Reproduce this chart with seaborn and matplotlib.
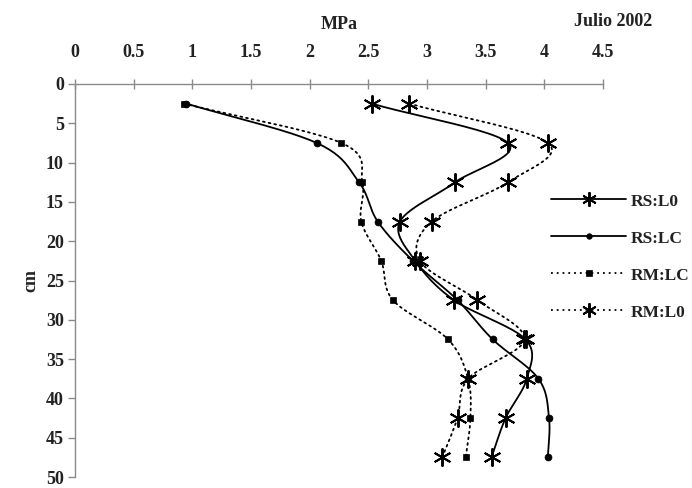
import numpy as np
import pandas as pd
import matplotlib
matplotlib.use("Agg")
import matplotlib.pyplot as plt
from matplotlib.lines import Line2D
import seaborn as sns

# Soil penetration resistance profiles (July 2002)
depth_cm = [2.5, 7.5, 12.5, 17.5, 22.5, 27.5, 32.5, 37.5, 42.5, 47.5]
rs_l0 = [2.53, 3.69, 3.24, 2.77, 2.90, 3.23, 3.84, 3.85, 3.67, 3.55]
rs_lc = [0.95, 2.06, 2.42, 2.58, 2.88, 3.26, 3.56, 3.95, 4.04, 4.03]
rm_lc = [0.93, 2.27, 2.45, 2.44, 2.61, 2.71, 3.18, 3.35, 3.37, 3.33]
rm_l0 = [2.85, 4.03, 3.69, 3.04, 2.94, 3.43, 3.83, 3.35, 3.26, 3.13]

series_names = ["RS:L0", "RS:LC", "RM:LC", "RM:L0"]
x_ticks = [0, 0.5, 1, 1.5, 2, 2.5, 3, 3.5, 4, 4.5]
y_ticks = [0, 5, 10, 15, 20, 25, 30, 35, 40, 45, 50]

sns.set_theme(style="white")
plt.rcParams["font.family"] = ["Liberation Serif", "DejaVu Serif"]

STAR = (6, 2, 0)
DOTTED = (0, (1, 2.2))
styles = {
    "RS:L0": dict(ls="-", marker=STAR, ms=13, mew=1.4),
    "RS:LC": dict(ls="-", marker="o", ms=5, mew=0.5),
    "RM:LC": dict(ls=DOTTED, marker="s", ms=5, mew=0.5),
    "RM:L0": dict(ls=DOTTED, marker=STAR, ms=13, mew=1.4),
}


def smooth(xs, ys, n=24):
    """Catmull-Rom curve through the points, like a smoothed line chart."""
    p = np.column_stack([xs, ys]).astype(float)
    p = np.vstack([2 * p[0] - p[1], p, 2 * p[-1] - p[-2]])
    out = []
    t = np.linspace(0, 1, n, endpoint=False)[:, None]
    for i in range(1, len(p) - 2):
        p0, p1, p2, p3 = p[i - 1], p[i], p[i + 1], p[i + 2]
        seg = 0.5 * ((2 * p1) + (-p0 + p2) * t
                     + (2 * p0 - 5 * p1 + 4 * p2 - p3) * t ** 2
                     + (-p0 + 3 * p1 - 3 * p2 + p3) * t ** 3)
        out.append(seg)
    out.append(p[-2][None, :])
    out = np.vstack(out)
    return out[:, 0], out[:, 1]


fig = plt.figure(figsize=(6.92, 4.88), dpi=100)
ax = fig.add_axes([75 / 692, 1 - 477 / 488, (603 - 75) / 692, (477 - 84) / 488])

data = {"RS:L0": rs_l0, "RS:LC": rs_lc, "RM:LC": rm_lc, "RM:L0": rm_l0}
handles = []
for name in series_names:
    vals = data[name]
    st = styles[name]
    sx, sy = smooth(vals, depth_cm)
    curve = pd.DataFrame({"mpa": sx, "cm": sy})
    sns.lineplot(data=curve, x="mpa", y="cm", sort=False, estimator=None,
                 ax=ax, color="black", lw=1.3, linestyle=st["ls"],
                 dash_capstyle="round")
    pts = pd.DataFrame({"mpa": vals, "cm": depth_cm})
    ax.plot(pts["mpa"], pts["cm"], ls="none", marker=st["marker"],
            ms=st["ms"], mew=st["mew"], color="black", mec="black", zorder=4)
    handles.append(Line2D([], [], color="black", lw=1.3, linestyle=st["ls"],
                          marker=st["marker"], ms=st["ms"] * 0.8,
                          mew=st["mew"], label=name))

ax.set_xlim(0, 4.5)
ax.set_ylim(50, 0)
ax.set_xticks(x_ticks)
ax.set_xticklabels([f"{v:g}" for v in x_ticks])
ax.set_yticks(y_ticks)
ax.xaxis.tick_top()
ax.xaxis.set_label_position("top")

for side in ["right", "bottom"]:
    ax.spines[side].set_visible(False)
for side in ["top", "left"]:
    ax.spines[side].set_color("#8a8a8a")
    ax.spines[side].set_linewidth(1.0)

ax.tick_params(axis="x", direction="inout", length=7, width=1, color="#8a8a8a",
               labelsize=13, pad=13, top=True, bottom=False)
ax.tick_params(axis="y", direction="out", length=5, width=1, color="#8a8a8a",
               labelsize=13, pad=3, left=True)
for lbl in ax.get_xticklabels() + ax.get_yticklabels():
    lbl.set_fontweight("bold")
    lbl.set_color("#222222")

ax.set_xlabel("MPa", fontsize=13, fontweight="bold", color="#222222", labelpad=11)
ax.set_ylabel("cm", fontsize=13, fontweight="bold", color="#222222", labelpad=5)
fig.text(652 / 692, 1 - 22 / 488, "Julio 2002", ha="right", va="center",
         fontsize=13, fontweight="bold", color="#222222")

leg = fig.legend(handles=handles, loc="upper left",
                 bbox_to_anchor=(541 / 692, 1 - 183 / 488), frameon=False,
                 fontsize=12.5, handlelength=4.3, handletextpad=0.25,
                 labelspacing=1.2, numpoints=1, borderaxespad=0.2)
for t in leg.get_texts():
    t.set_fontweight("bold")
    t.set_color("#222222")

fig.savefig("out.png", dpi=100, facecolor="white")
